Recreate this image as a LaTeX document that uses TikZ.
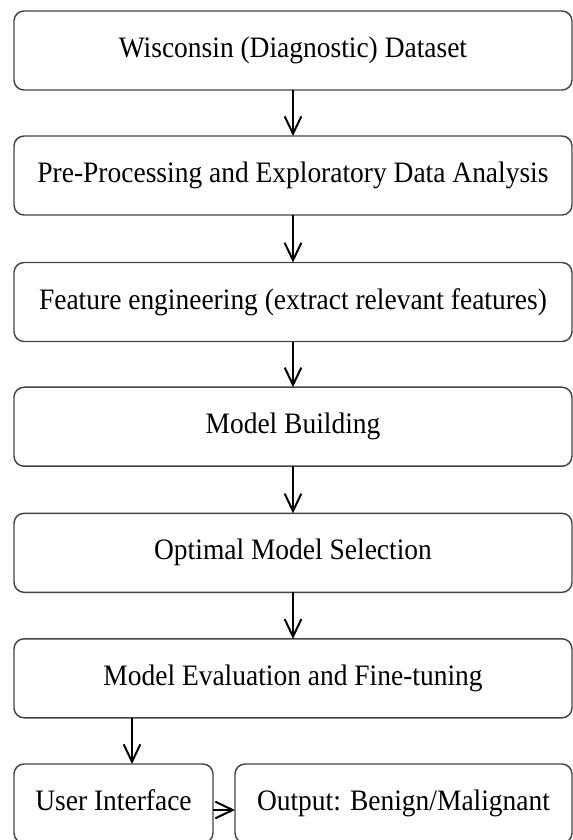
\documentclass[tikz,border=0pt]{standalone}
\usepackage{fontspec}
\setmainfont{Liberation Serif}
\usetikzlibrary{arrows.meta}
\definecolor{boxgray}{HTML}{454545}
\newcommand{\tallt}[1]{\scalebox{1}[1.08]{#1}}
\begin{document}
\begin{tikzpicture}[x=0.75pt,y=-0.75pt,
  box/.style={draw=boxgray, line width=1.1pt, rounded corners=7.5pt, inner sep=0pt, outer sep=0pt,
    font=\fontsize{20.6}{24}\selectfont, text=black},
  wide/.style={box, minimum width=418.5pt, minimum height=59.25pt},
  flow/.style={draw=black, line width=1.5pt, -{Straight Barb[length=13pt,width=12.5pt]}}]
\useasboundingbox (0,0) rectangle (573,840);
\node[wide] (b1) at (293,50.5) {\tallt{Wisconsin (Diagnostic) Dataset}};
\node[wide] (b2) at (293,175.5) {\tallt{Pre-Processing and Exploratory Data Analysis}};
\node[wide] (b3) at (293,302) {\tallt{Feature engineering (extract relevant features)}};
\node[wide] (b4) at (293,426.7) {\tallt{Model Building}};
\node[wide] (b5) at (293,552.8) {\tallt{Optimal Model Selection}};
\node[wide] (b6) at (293,678.3) {\tallt{Model Evaluation and Fine-tuning}};
\node[box, minimum width=149.25pt, minimum height=59.25pt] (b7) at (113.5,803.5) {\raisebox{5pt}{\tallt{User Interface}}};
\node[box, minimum width=252.75pt, minimum height=59.25pt] (b8) at (403.5,803.5) {\raisebox{-5pt}{\tallt{Output: Benign/Malignant}}};
\draw[flow] (b1) -- (b2);
\draw[flow] (b2) -- (b3);
\draw[flow] (b3) -- (b4);
\draw[flow] (b4) -- (b5);
\draw[flow] (b5) -- (b6);
\coordinate (u) at (132,718.3);
\draw[flow] (u) -- (u |- b7.north);
\draw[flow] (b7.east |- 0,810) -- (b8.west |- 0,810);
\end{tikzpicture}
\end{document}
